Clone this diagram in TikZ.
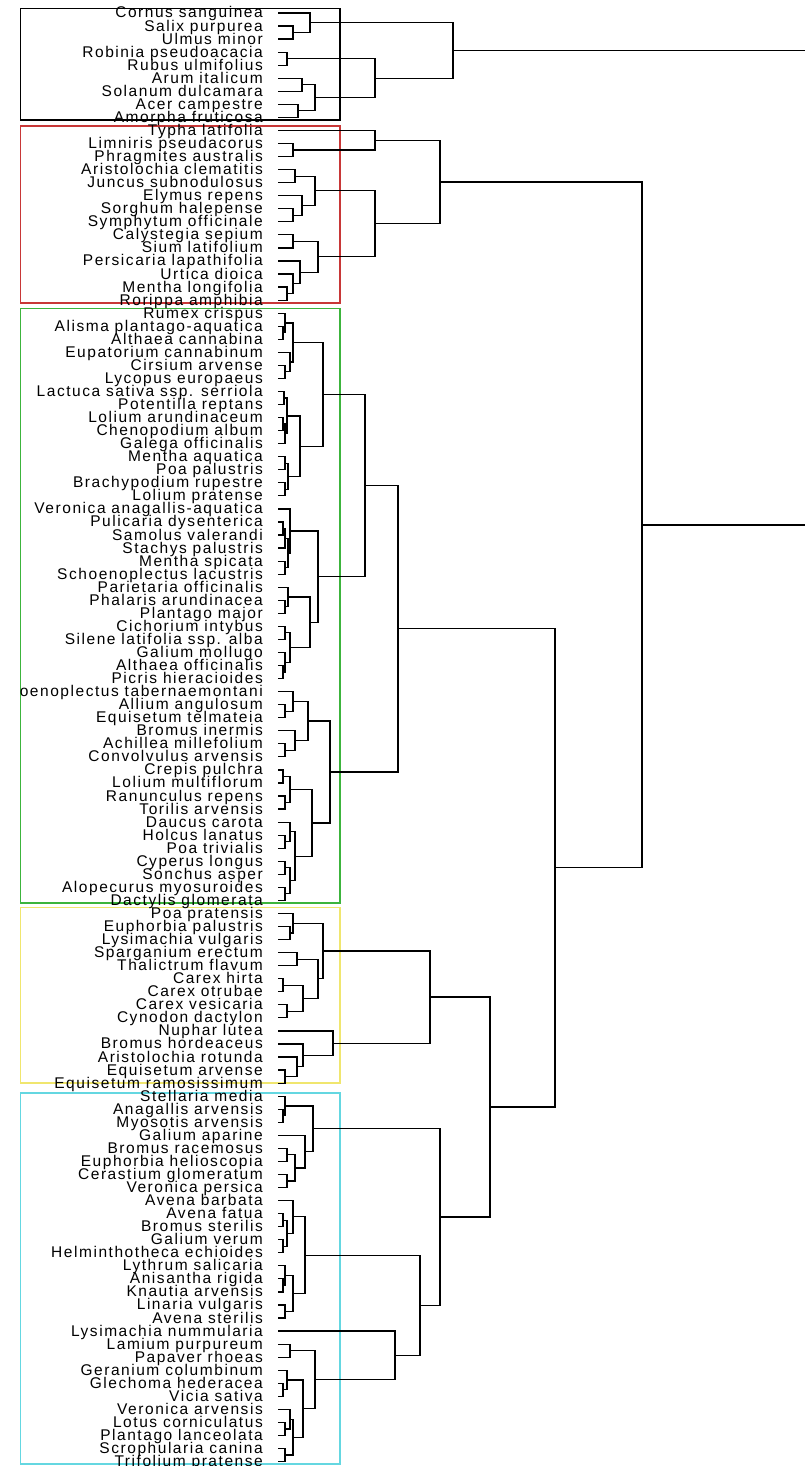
\documentclass[tikz,border=0pt]{standalone}
\usepackage{fontspec}
\setmainfont{Liberation Sans}[LetterSpace=10]
\usetikzlibrary{calc}
\definecolor{cR}{RGB}{200,55,55}
\definecolor{cG}{RGB}{60,180,60}
\definecolor{cY}{RGB}{240,230,110}
\definecolor{cC}{RGB}{100,215,225}
\tikzset{
  tree/.style={line width=1.2pt, black},
  lab/.style={anchor=base east, inner sep=0pt, font=\fontsize{15.5pt}{15.5pt}\selectfont},
  grp/.style={line width=1.5pt}
}
\newcommand\mrg[4]{%
  \path let \p1=(#2), \p2=(#3) in coordinate (#1) at (#4pt, {0.5*(\y1+\y2)});
  \draw[tree] (#2) -| (#1) |- (#3);}
\begin{document}
\begin{tikzpicture}[x=1pt,y=-1pt]
\useasboundingbox (0,0) rectangle (805,1466);
\fill[white] (0,0) rectangle (805,1466);
% group boxes
\draw[grp,black] (20.5,8.5) rectangle (340,120);
\draw[grp,cR] (20.5,126) rectangle (340,303);
\draw[grp,cG] (20.5,308.5) rectangle (340,903);
\draw[grp,cY] (20.5,907.5) rectangle (340,1083);
\draw[grp,cC] (20.5,1093) rectangle (340,1464);
% leaves
\foreach \nm [count=\i from 0] in {Cornus sanguinea,Salix purpurea,Ulmus minor,Robinia pseudoacacia,Rubus ulmifolius,Arum italicum,Solanum dulcamara,Acer campestre,Amorpha fruticosa,
Typha latifolia,Limniris pseudacorus,Phragmites australis,Aristolochia clematitis,Juncus subnodulosus,Elymus repens,Sorghum halepense,Symphytum officinale,Calystegia sepium,Sium latifolium,Persicaria lapathifolia,Urtica dioica,Mentha longifolia,Rorippa amphibia,
Rumex crispus,Alisma plantago-aquatica,Althaea cannabina,Eupatorium cannabinum,Cirsium arvense,Lycopus europaeus,Lactuca sativa ssp. serriola,Potentilla reptans,Lolium arundinaceum,Chenopodium album,Galega officinalis,Mentha aquatica,Poa palustris,Brachypodium rupestre,Lolium pratense,Veronica anagallis-aquatica,Pulicaria dysenterica,Samolus valerandi,Stachys palustris,Mentha spicata,Schoenoplectus lacustris,Parietaria officinalis,Phalaris arundinacea,Plantago major,Cichorium intybus,Silene latifolia ssp. alba,Galium mollugo,Althaea officinalis,Picris hieracioides,oenoplectus tabernaemontani,Allium angulosum,Equisetum telmateia,Bromus inermis,Achillea millefolium,Convolvulus arvensis,Crepis pulchra,Lolium multiflorum,Ranunculus repens,Torilis arvensis,Daucus carota,Holcus lanatus,Poa trivialis,Cyperus longus,Sonchus asper,Alopecurus myosuroides,Dactylis glomerata,
Poa pratensis,Euphorbia palustris,Lysimachia vulgaris,Sparganium erectum,Thalictrum flavum,Carex hirta,Carex otrubae,Carex vesicaria,Cynodon dactylon,Nuphar lutea,Bromus hordeaceus,Aristolochia rotunda,Equisetum arvense,Equisetum ramosissimum,
Stellaria media,Anagallis arvensis,Myosotis arvensis,Galium aparine,Bromus racemosus,Euphorbia helioscopia,Cerastium glomeratum,Veronica persica,Avena barbata,Avena fatua,Bromus sterilis,Galium verum,Helminthotheca echioides,Lythrum salicaria,Anisantha rigida,Knautia arvensis,Linaria vulgaris,Avena sterilis,Lysimachia nummularia,Lamium purpureum,Papaver rhoeas,Geranium columbinum,Glechoma hederacea,Vicia sativa,Veronica arvensis,Lotus corniculatus,Plantago lanceolata,Scrophularia canina,Trifolium pratense}
{
  \node[lab] (t\i) at (263,{13+13.05*\i+5}) {\nm};
  \coordinate (L\i) at (278,{13+13.05*\i});
}
% group 1
\mrg{a1}{L1}{L2}{293}
\mrg{a2}{L0}{a1}{310}
\mrg{a3}{L3}{L4}{287}
\mrg{a4}{L5}{L6}{302}
\mrg{a5}{L7}{L8}{298}
\mrg{a6}{a4}{a5}{315}
\mrg{a7}{a3}{a6}{375}
\mrg{A}{a2}{a7}{453}
% group 2
\mrg{b1}{L10}{L11}{293}
\mrg{b2}{L9}{b1}{375}
\mrg{b3}{L12}{L13}{295}
\mrg{b4}{L15}{L16}{293}
\mrg{b5}{L14}{b4}{302}
\mrg{b6}{b3}{b5}{315}
\mrg{b7}{L17}{L18}{293}
\mrg{b8}{L21}{L22}{287}
\mrg{b9}{L20}{b8}{293}
\mrg{b10}{L19}{b9}{300}
\mrg{b11}{b7}{b10}{318}
\mrg{b12}{b6}{b11}{375}
\mrg{B}{b2}{b12}{440}
% group 3
\mrg{g1}{L24}{L25}{283}
\mrg{g2}{L23}{g1}{285}
\mrg{g3}{L27}{L28}{285}
\mrg{g4}{L26}{g3}{290}
\mrg{g5}{g2}{g4}{293}
\mrg{g6}{L29}{L30}{284}
\mrg{g7}{L31}{L32}{283}
\mrg{g8}{g7}{L33}{285}
\mrg{g9}{g6}{g8}{287}
\mrg{g10}{L34}{L35}{285}
\mrg{g11}{L36}{L37}{285}
\mrg{g12}{g10}{g11}{288}
\mrg{g13}{g9}{g12}{300}
\mrg{g14}{g5}{g13}{323}
\mrg{g15}{L39}{L40}{283}
\mrg{g16}{g15}{L41}{285}
\mrg{g17}{L42}{L43}{285}
\mrg{g18}{g16}{g17}{288}
\mrg{g19}{L38}{g18}{290}
\mrg{g20}{L45}{L46}{285}
\mrg{g21}{L44}{g20}{288}
\mrg{g22}{L47}{L48}{285}
\mrg{g23}{L50}{L51}{283}
\mrg{g24}{L49}{g23}{285}
\mrg{g25}{g22}{g24}{290}
\mrg{g26}{g21}{g25}{310}
\mrg{g27}{g19}{g26}{318}
\mrg{g28}{L53}{L54}{285}
\mrg{g29}{L52}{g28}{293}
\mrg{g30}{L56}{L57}{285}
\mrg{g31}{L55}{g30}{295}
\mrg{g32}{g29}{g31}{308}
\mrg{g33}{L58}{L59}{283}
\mrg{g34}{L60}{L61}{285}
\mrg{g35}{g33}{g34}{290}
\mrg{g36}{L63}{L64}{285}
\mrg{g37}{L62}{g36}{290}
\mrg{g38}{L65}{L66}{285}
\mrg{g39}{L67}{L68}{285}
\mrg{g40}{g38}{g39}{290}
\mrg{g41}{g37}{g40}{295}
\mrg{g42}{g35}{g41}{312}
\mrg{g43}{g32}{g42}{330}
\mrg{g44}{g14}{g27}{365}
\mrg{G}{g44}{g43}{398}
% group 4
\mrg{y1}{L70}{L71}{290}
\mrg{y2}{L69}{y1}{293}
\mrg{y3}{L72}{L73}{297}
\mrg{y4}{L74}{L75}{283}
\mrg{y5}{L76}{L77}{287}
\mrg{y6}{y4}{y5}{303}
\mrg{y7}{y3}{y6}{318}
\mrg{y8}{y2}{y7}{323}
\mrg{y9}{L81}{L82}{285}
\mrg{y10}{L80}{y9}{297}
\mrg{y11}{L79}{y10}{303}
\mrg{y12}{L78}{y11}{333}
\mrg{Y}{y8}{y12}{430}
% group 5
\mrg{c1}{L84}{L85}{283}
\mrg{c2}{L83}{c1}{285}
\mrg{c3}{L87}{L88}{287}
\mrg{c4}{L89}{L90}{287}
\mrg{c5}{c3}{c4}{295}
\mrg{c6}{L86}{c5}{305}
\mrg{c7}{c2}{c6}{313}
\mrg{c8}{L92}{L93}{283}
\mrg{c9}{L94}{L95}{283}
\mrg{c10}{c8}{c9}{287}
\mrg{c11}{L91}{c10}{293}
\mrg{c12}{L97}{L98}{283}
\mrg{c13}{L96}{c12}{285}
\mrg{c14}{L99}{L100}{285}
\mrg{c15}{c13}{c14}{293}
\mrg{c16}{c11}{c15}{305}
\mrg{c17}{L102}{L103}{290}
\mrg{c18}{L105}{L106}{283}
\mrg{c19}{L104}{c18}{287}
\mrg{c20}{L108}{L109}{285}
\mrg{c21}{L107}{c20}{290}
\mrg{c22}{L110}{L111}{285}
\mrg{c23}{c21}{c22}{293}
\mrg{c24}{c19}{c23}{303}
\mrg{c25}{c17}{c24}{315}
\mrg{c26}{L101}{c25}{395}
\mrg{c27}{c16}{c26}{420}
\mrg{C}{c7}{c27}{440}
% upper levels
\mrg{YC}{Y}{C}{490}
\mrg{GYC}{G}{YC}{555}
\mrg{R}{B}{GYC}{642}
\coordinate (E) at (806,0);
\draw[tree] (A) -- (A -| E);
\draw[tree] (R) -- (R -| E);
\end{tikzpicture}
\end{document}
